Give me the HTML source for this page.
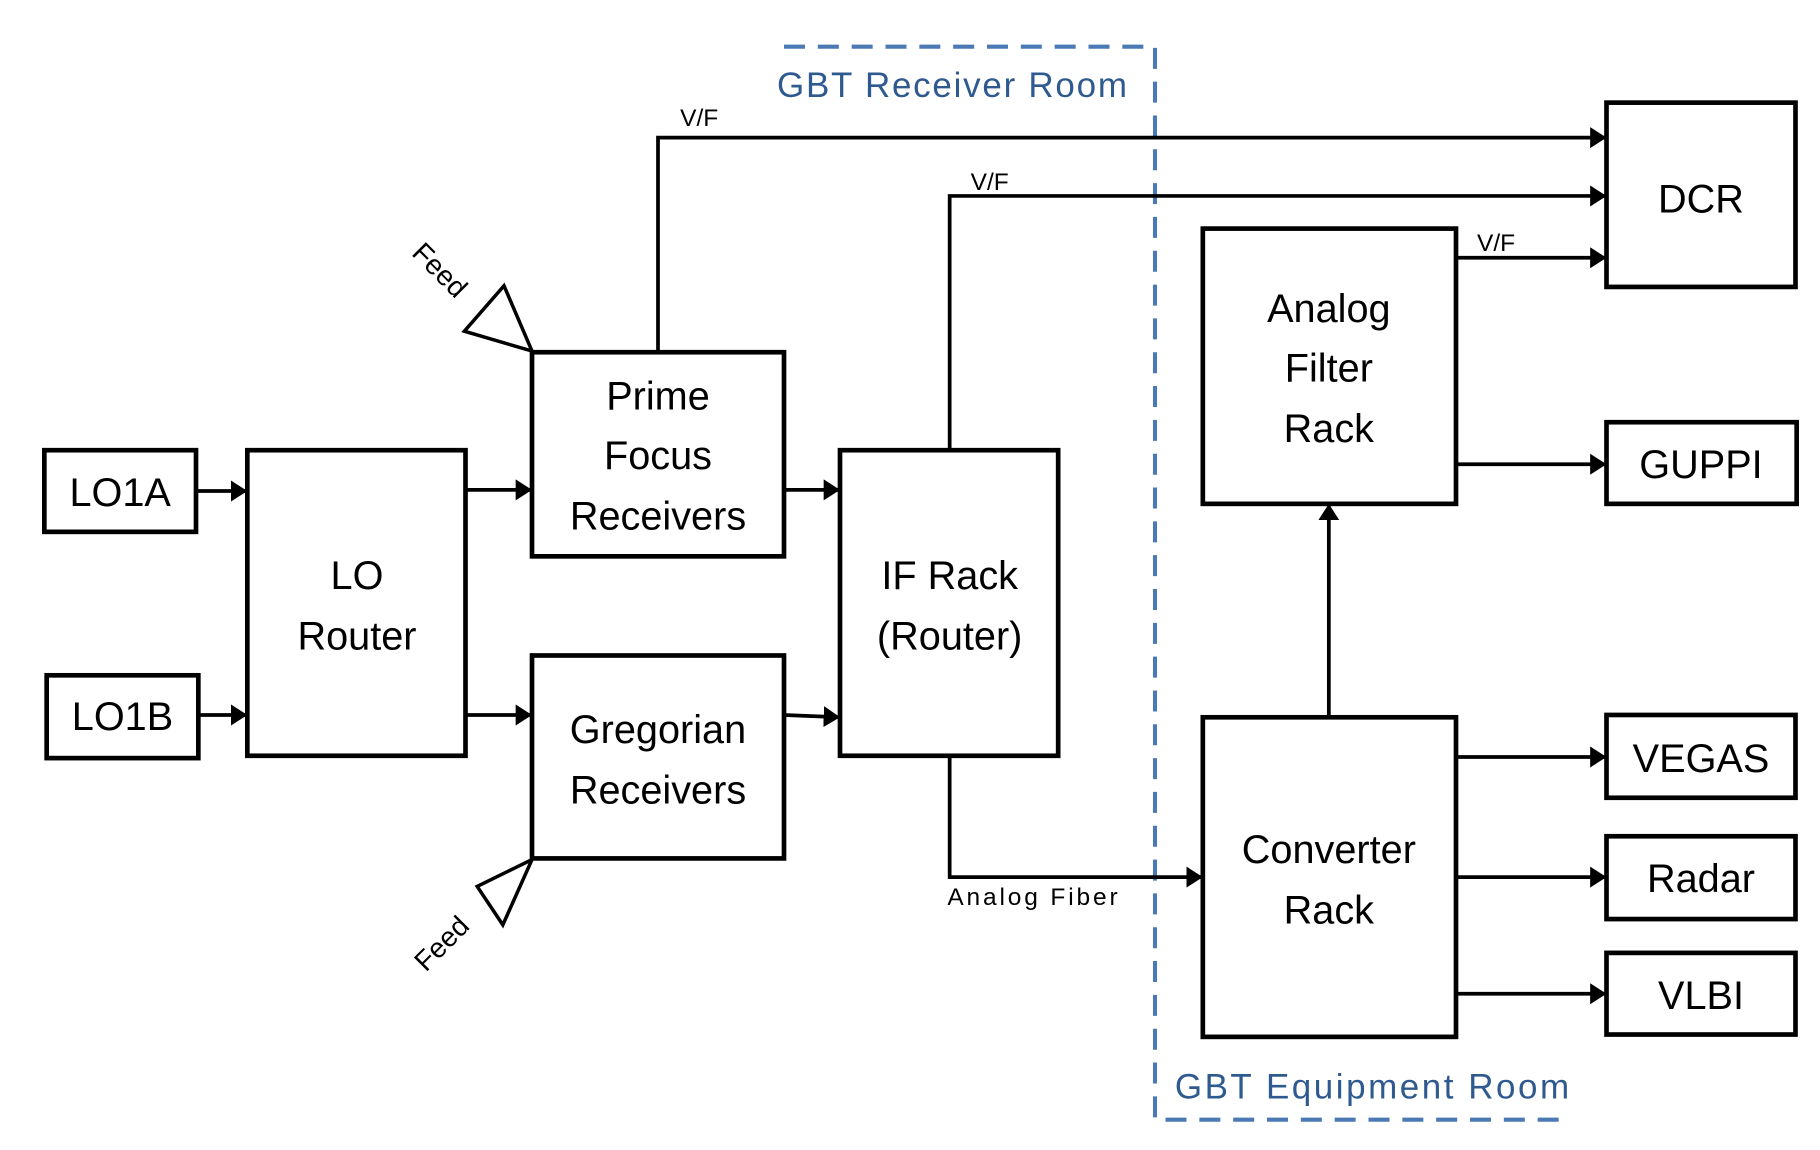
<!DOCTYPE html>
<html><head><meta charset="utf-8"><style>html,body{margin:0;padding:0;background:#fff}svg{display:block}</style></head>
<body>
<svg width="1820" height="1150" viewBox="0 0 1560 986" preserveAspectRatio="none" xmlns="http://www.w3.org/2000/svg" font-family="Liberation Sans, sans-serif">
<defs><marker id="b" markerWidth="14" markerHeight="18" refX="14" refY="9" orient="auto" markerUnits="userSpaceOnUse"><path d="M0,0 L14,9 L0,18 z" fill="#000"/></marker></defs>
<g fill="none" stroke="#4a79b3" stroke-width="3.5" stroke-dasharray="18,11">
<path d="M672,40 H990 V960 H1346"/></g>
<g fill="#2f5a8f" font-size="30"><text x="666" y="83" textLength="300">GBT Receiver Room</text><text x="1007" y="942" textLength="338">GBT Equipment Room</text></g>
<g fill="none" stroke="#000" stroke-width="4">
<rect x="38" y="386" width="130" height="70"/><rect x="40" y="579" width="130" height="71"/>
<rect x="212" y="386" width="187" height="262"/><rect x="456" y="302" width="216" height="175"/>
<rect x="456" y="562" width="216" height="174"/><rect x="720" y="386" width="187" height="262"/>
<rect x="1031" y="196" width="217" height="236"/><rect x="1031" y="615" width="217" height="274"/>
<rect x="1377" y="88" width="162" height="158"/><rect x="1377" y="362" width="163" height="70"/>
<rect x="1377" y="613" width="162" height="71"/><rect x="1377" y="717" width="162" height="71"/><rect x="1377" y="817" width="162" height="70"/>
</g>
<g fill="none" stroke="#000" stroke-width="3.2" marker-end="url(#b)">
<path d="M168,421 H212"/><path d="M170,613 H212"/><path d="M399,420 H456"/><path d="M399,613 H456"/>
<path d="M672,420 H720"/><path d="M672,613 L720,615"/>
<path d="M564,302 V118 H1377"/><path d="M814,386 V168 H1377"/><path d="M1248,221 H1377"/><path d="M1248,398 H1377"/>
<path d="M1139,615 V432"/><path d="M814,648 V752 H1031"/>
<path d="M1248,649 H1377"/><path d="M1248,752 H1377"/><path d="M1248,852 H1377"/>
</g>
<g fill="none" stroke="#000" stroke-width="3"><path d="M456,301 L432,245 L398,284 Z"/><path d="M456,737 L409,760 L431,793 Z"/></g>
<g font-size="34" text-anchor="middle" fill="#000">
<text x="103" y="434">LO1A</text><text x="105" y="626">LO1B</text>
<text x="306" y="505">LO</text><text x="306" y="557">Router</text>
<text x="564" y="351">Prime</text><text x="564" y="402">Focus</text><text x="564" y="454">Receivers</text>
<text x="564" y="637">Gregorian</text><text x="564" y="689">Receivers</text>
<text x="814" y="505">IF Rack</text><text x="814" y="557">(Router)</text>
<text x="1139" y="276">Analog</text><text x="1139" y="327">Filter</text><text x="1139" y="379">Rack</text>
<text x="1139" y="740">Converter</text><text x="1139" y="792">Rack</text>
<text x="1458" y="182">DCR</text><text x="1458" y="410">GUPPI</text><text x="1458" y="662">VEGAS</text><text x="1458" y="765">Radar</text><text x="1458" y="865">VLBI</text>
</g>
<g font-size="21" fill="#000">
<text x="583" y="108">V/F</text><text x="832" y="163">V/F</text><text x="1266" y="215">V/F</text>
<text x="812" y="776" textLength="146">Analog Fiber</text>
<text x="0" y="0" transform="translate(352,218) rotate(45)" font-size="24">Feed</text>
<text x="0" y="0" transform="translate(365,834) rotate(-45)" font-size="24">Feed</text>
</g>
</svg>
</body></html>
